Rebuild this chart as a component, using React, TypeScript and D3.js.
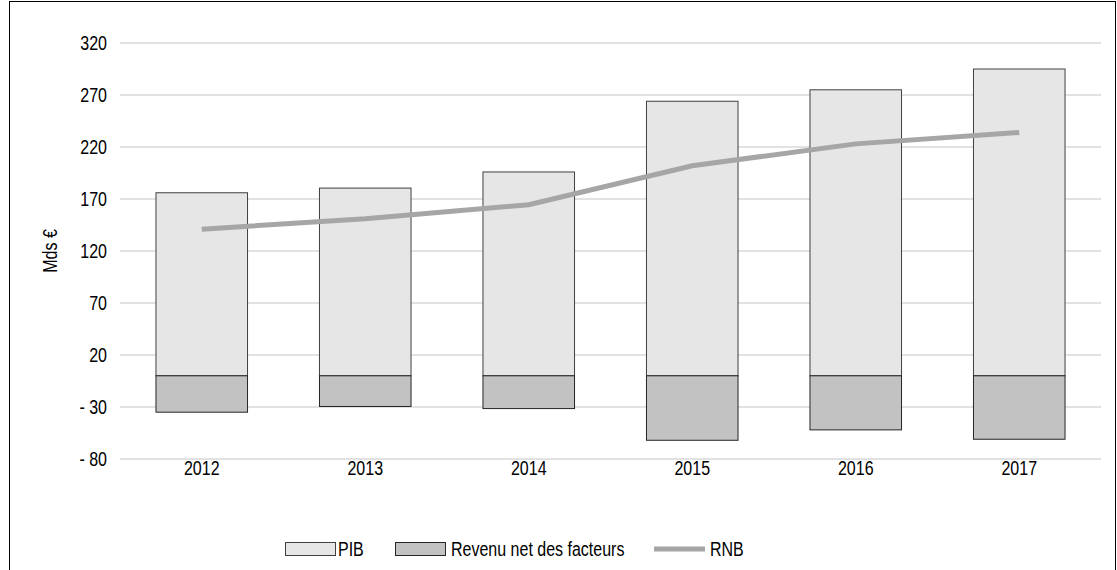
import React from "react";
import * as d3 from "d3";

const years = ["2012", "2013", "2014", "2015", "2016", "2017"];
const pib = [176, 180.5, 196, 264, 275, 295];
const revenuNet = [-35, -29.5, -31.5, -62, -52, -61];
const rnb = [141, 151, 164.5, 202, 223, 234];
const yTicks = [320, 270, 220, 170, 120, 70, 20, -30, -80];

const W = 1117;
const H = 570;
const FONT = "'Liberation Sans', Arial, sans-serif";
const FS = 20;
const SX = 0.8;

function NText({ x, y, anchor = "start", rotate = 0, children }: { x: number; y: number; anchor?: string; rotate?: number; children: React.ReactNode }) {
  return (
    <text
      transform={`translate(${x},${y}) rotate(${rotate}) scale(${SX},1)`}
      textAnchor={anchor}
      dy="0.35em"
      fontSize={FS}
      fill="#000"
    >
      {children}
    </text>
  );
}

export default function App() {
  const x = d3.scaleBand<string>().domain(years).range([120, 1101]).paddingInner(0.44).paddingOuter(0.22);
  const y = d3.scaleLinear().domain([-80, 320]).range([459, 43]);
  const cx = (yr: string) => (x(yr) as number) + x.bandwidth() / 2;
  const line = d3
    .line<number>()
    .x((_, i) => cx(years[i]))
    .y((d) => y(d));
  const fmt = (v: number) => (v < 0 ? `- ${Math.abs(v)}` : `${v}`);

  const legendY = 549;
  return (
    <svg width={W} height={H} style={{ position: "absolute", left: 0, top: 0 }} fontFamily={FONT}>
      <rect x={0} y={0} width={W} height={H} fill="#fff" />
      <rect x={9.5} y={1.5} width={1106} height={H + 10} fill="none" stroke="#000" strokeWidth={1} />
      {yTicks.map((t) => (
        <g key={t}>
          <line x1={120} x2={1101} y1={y(t)} y2={y(t)} stroke="#d9d9d9" strokeWidth={1.5} />
          <NText x={107} y={y(t)} anchor="end">{fmt(t)}</NText>
        </g>
      ))}
      <NText x={50} y={(y(320) + y(-80)) / 2} anchor="middle" rotate={-90}>Mds €</NText>
      {years.map((yr, i) => (
        <g key={yr}>
          <rect
            x={x(yr)}
            y={y(pib[i])}
            width={x.bandwidth()}
            height={y(0) - y(pib[i])}
            fill="#e6e6e6"
            stroke="#404040"
            strokeWidth={1}
          />
          <rect
            x={x(yr)}
            y={y(0)}
            width={x.bandwidth()}
            height={y(revenuNet[i]) - y(0)}
            fill="#c2c2c2"
            stroke="#262626"
            strokeWidth={1}
          />
          <NText x={cx(yr)} y={468} anchor="middle">{yr}</NText>
        </g>
      ))}
      <path d={line(rnb) || ""} fill="none" stroke="#a6a6a6" strokeWidth={5} />
      <rect x={285.5} y={legendY - 6.5} width={50} height={13} fill="#e6e6e6" stroke="#404040" />
      <NText x={338} y={legendY}>PIB</NText>
      <rect x={395.5} y={legendY - 6.5} width={50} height={13} fill="#c2c2c2" stroke="#262626" />
      <NText x={451} y={legendY}>Revenu net des facteurs</NText>
      <line x1={654} x2={705} y1={legendY} y2={legendY} stroke="#a6a6a6" strokeWidth={5} />
      <NText x={710} y={legendY}>RNB</NText>
    </svg>
  );
}
